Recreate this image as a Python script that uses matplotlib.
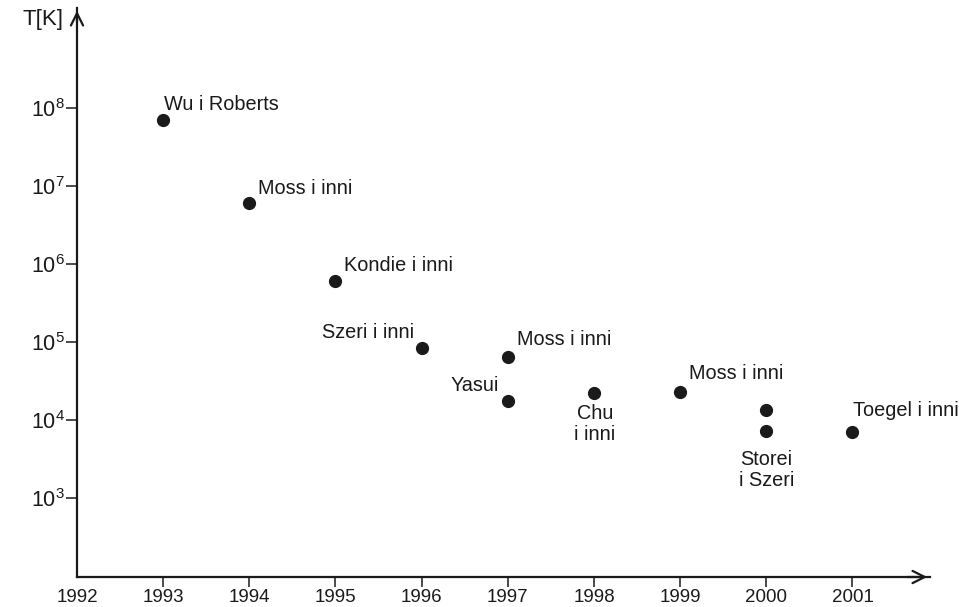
import matplotlib
matplotlib.use("Agg")
import matplotlib.pyplot as plt
from matplotlib.ticker import FixedLocator, LogFormatterSciNotation, NullLocator

plt.rcParams['font.family'] = ['Liberation Sans', 'DejaVu Sans']
plt.rcParams['mathtext.fontset'] = 'custom'
plt.rcParams['mathtext.rm'] = 'Liberation Sans'

# data
years = [1993, 1994, 1995, 1996, 1997, 1997, 1998, 1999, 2000, 2000, 2001]
temps = [7.0e7, 6.0e6, 6.0e5, 8.4e4, 6.4e4, 1.75e4, 2.2e4, 2.3e4, 1.34e4, 7.2e3, 7.0e3]
labels = ["Wu i Roberts", "Moss i inni", "Kondie i inni", "Szeri i inni", "Moss i inni",
          "Yasui", "Chu\ni inni", "Moss i inni", "", "Storei\ni Szeri", "Toegel i inni"]
# label placement: (dx px, dy px, ha, va)
places = [(1, 6, 'left', 'bottom'), (9, 5, 'left', 'bottom'), (9, 6, 'left', 'bottom'),
          (-8, 6, 'right', 'bottom'), (9, 8, 'left', 'bottom'), (-9, 6, 'right', 'bottom'),
          (1, -11, 'center', 'top'), (9, 9, 'left', 'bottom'), (0, 0, 'center', 'top'),
          (0, -19, 'center', 'top'), (1, 12, 'left', 'bottom')]

xticks = list(range(1992, 2002))
yticks = [1e3, 1e4, 1e5, 1e6, 1e7, 1e8]

ink = '#1a1a1a'
fig = plt.figure(figsize=(9.59, 6.07), dpi=100)
ax = fig.add_axes([77 / 959, 30 / 607, 853 / 959, 569 / 607])
ax.set_yscale('log')
ax.set_xlim(1992, 2001.9)
ax.set_ylim(10 ** 1.99, 10 ** 9.28)

ax.plot(years, temps, 'o', color=ink, ms=8.5, clip_on=False)
for x, y, lab, (dx, dy, ha, va) in zip(years, temps, labels, places):
    if lab:
        ax.annotate(lab, (x, y), xytext=(dx, dy), textcoords='offset pixels',
                    ha=ha, va=va, fontsize=14.3, color=ink, linespacing=1.1,
                    multialignment='center')

for s in ['top', 'right']:
    ax.spines[s].set_visible(False)
for s in ['left', 'bottom']:
    ax.spines[s].set_linewidth(1.6)
    ax.spines[s].set_color(ink)

ax.xaxis.set_major_locator(FixedLocator(xticks))
ax.set_xticklabels([str(t) for t in xticks])
ax.yaxis.set_major_locator(FixedLocator(yticks))
ax.yaxis.set_major_formatter(LogFormatterSciNotation())
ax.yaxis.set_minor_locator(NullLocator())
ax.tick_params(axis='x', length=7, width=1.1, color=ink, pad=2, labelsize=13.5, labelcolor=ink)
ax.tick_params(axis='y', length=8, width=1.1, color=ink, pad=1, labelsize=15.5, labelcolor=ink)
ax.xaxis.get_major_ticks()[0].tick1line.set_visible(False)

# arrow heads on the axes
ax.annotate('', xy=(1, 0), xytext=(0.97, 0), xycoords='axes fraction',
            arrowprops=dict(arrowstyle='->', lw=1.6, color=ink, mutation_scale=22))
ax.annotate('', xy=(0, 1), xytext=(0, 0.97), xycoords='axes fraction',
            arrowprops=dict(arrowstyle='->', lw=1.6, color=ink, mutation_scale=22))

fig.text(43 / 959, 1 - 20 / 607, 'T[K]', ha='center', va='center', fontsize=16, color=ink)

fig.savefig('out.png', dpi=100)
